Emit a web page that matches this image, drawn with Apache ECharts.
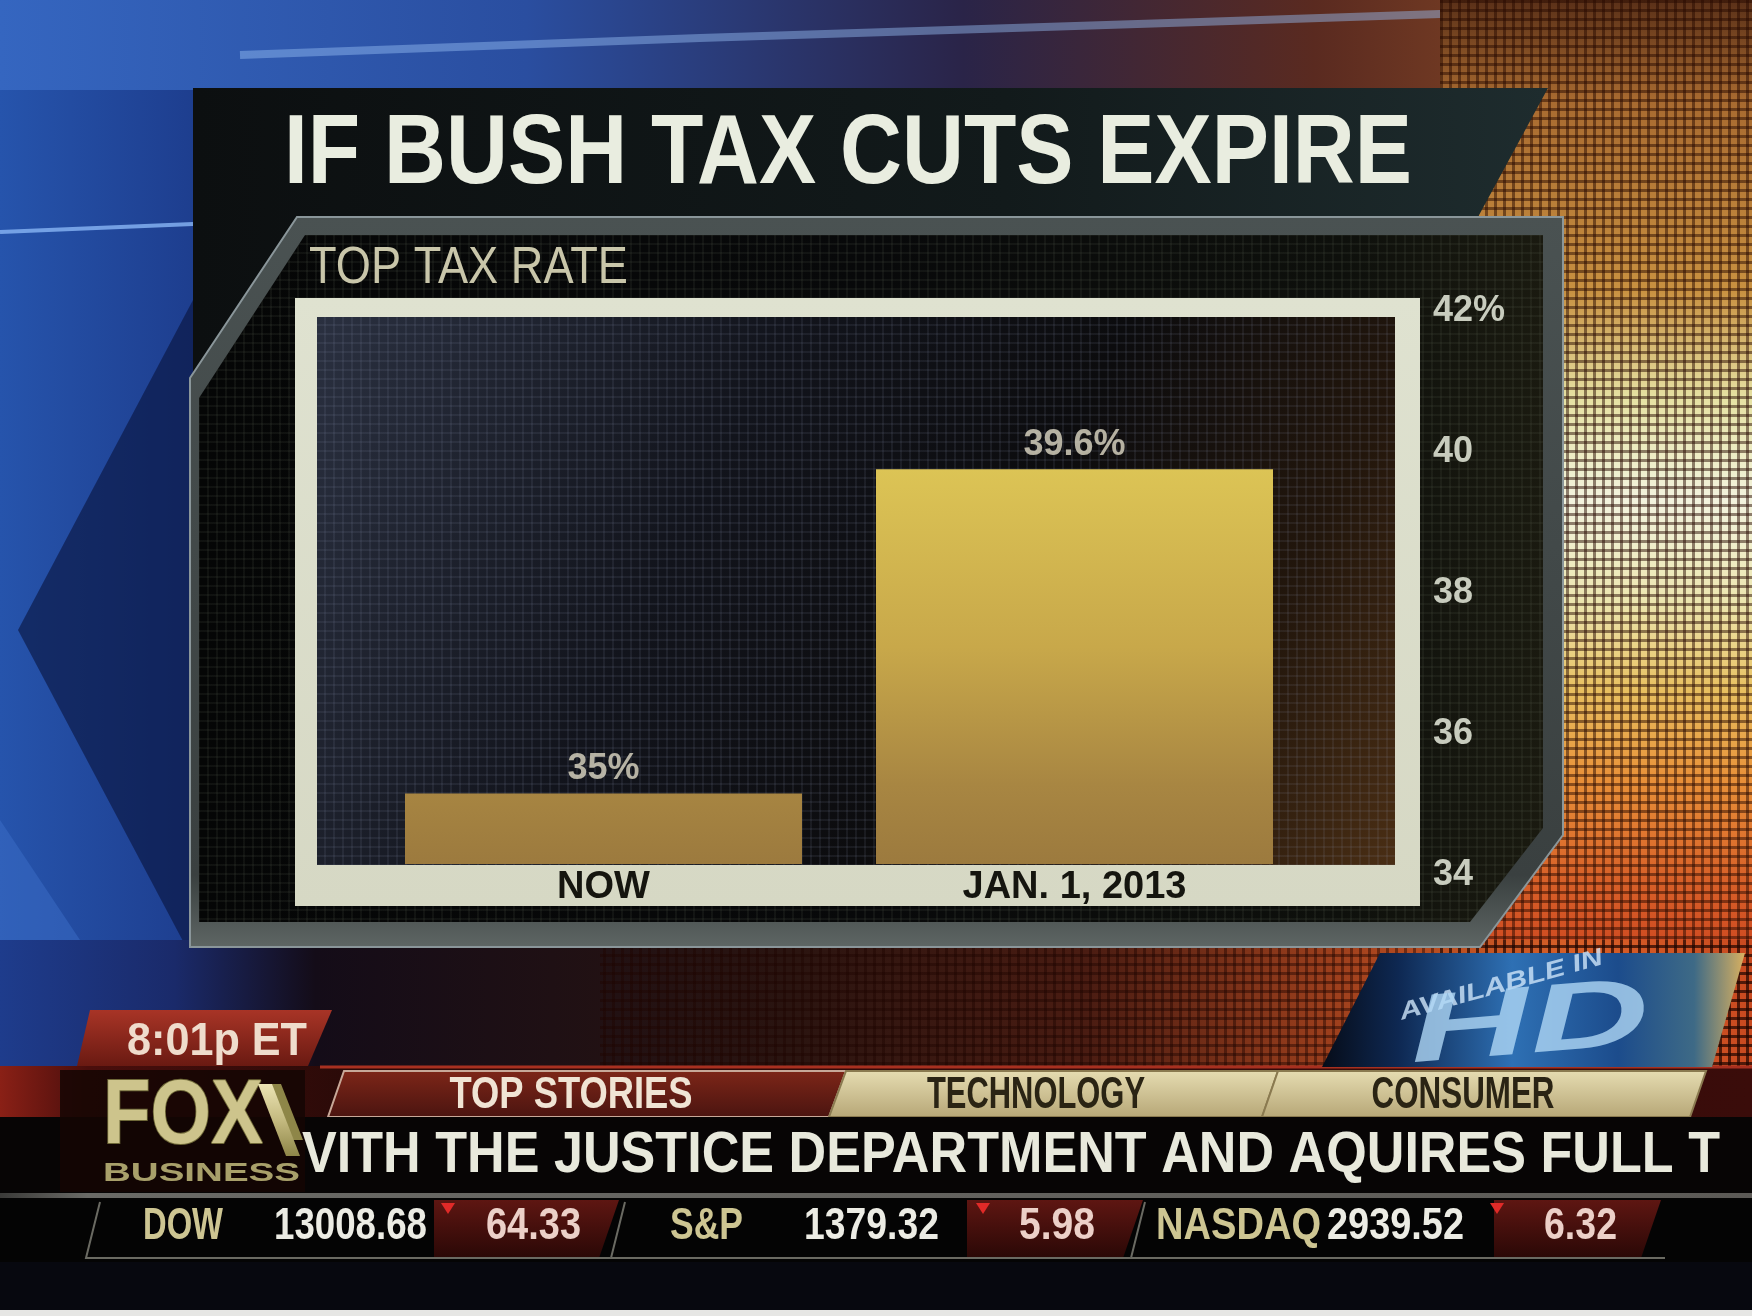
<!DOCTYPE html>
<html>
<head>
<meta charset="utf-8">
<script src="https://cdn.jsdelivr.net/npm/echarts@6/dist/echarts.min.js"></script>
<style>
html,body{margin:0;padding:0;background:#000;}
#c{width:1752px;height:1316px;}
</style>
</head>
<body>
<div id="c"></div>
<script>
// ---- data ----
const categories = ['NOW', 'JAN. 1, 2013'];
const topRates = [35, 39.6];
const yMin = 34, yMax = 42, yStep = 2;
const titleText = 'IF BUSH TAX CUTS EXPIRE';
const subtitleText = 'TOP TAX RATE';
const tabNames = ['TOP STORIES', 'TECHNOLOGY', 'CONSUMER'];
const headline = 'VITH THE JUSTICE DEPARTMENT AND AQUIRES FULL T';
const clockText = '8:01p ET';
const tickerNames = ['DOW', 'S&P', 'NASDAQ'];
const tickerValues = ['13008.68', '1379.32', '2939.52'];
const tickerChanges = ['64.33', '5.98', '6.32'];

const W = 1752, H = 1316;
const FONT = '"Liberation Sans", Arial, sans-serif';
const mctx = document.createElement('canvas').getContext('2d');

function fitText(text, x, y, width, size, color, opt) {
  opt = opt || {};
  const weight = opt.weight || 'normal';
  const style = opt.italic ? 'italic ' : '';
  const font = style + weight + ' ' + size + 'px ' + FONT;
  mctx.font = font;
  const mw = mctx.measureText(text).width || 1;
  return {
    type: 'text', x: x, y: y + size * 0.06, scaleX: width / mw, rotation: opt.rotation || 0,
    silent: true, z: opt.z || 5,
    style: { text: text, font: font, fill: color, align: opt.align || 'left', verticalAlign: 'middle',
             opacity: opt.opacity == null ? 1 : opt.opacity,
             stroke: opt.stroke || null, lineWidth: opt.lineWidth || 0 }
  };
}
function poly(points, fill, extra) {
  return Object.assign({ type: 'polygon', silent: true, shape: { points: points }, style: { fill: fill } }, extra || {});
}
function rect(x, y, w, h, fill, extra) {
  return Object.assign({ type: 'rect', silent: true, shape: { x: x, y: y, width: w, height: h }, style: { fill: fill } }, extra || {});
}
function lin(x2, y2, stops) {
  return { type: 'linear', x: 0, y: 0, x2: x2, y2: y2, colorStops: stops.map(s => ({ offset: s[0], color: s[1] })) };
}
function gridPattern(cell, lw, color) {
  const c = document.createElement('canvas');
  c.width = cell; c.height = cell;
  const g = c.getContext('2d');
  g.fillStyle = color;
  g.fillRect(0, 0, cell, lw);
  g.fillRect(0, 0, lw, cell);
  return { image: c, repeat: 'repeat' };
}

const g = [];
// background
g.push(rect(0, 0, W, H, lin(1, 0, [[0, '#2654ac'], [0.12, '#1d3c8c'], [0.32, '#1a1c44'], [0.55, '#2a1418'], [0.8, '#7a3418'], [1, '#c86a28']])));
g.push(rect(0, 0, W, 90, lin(1, 0, [[0, '#3566c0'], [0.3, '#2a4ea0'], [0.55, '#2a2448'], [0.75, '#5a2a20'], [1, '#a05a28']])));
g.push(poly([[193, 300], [18, 630], [193, 960]], 'rgba(8,18,58,0.6)'));
g.push(poly([[0, 820], [120, 1000], [0, 1060]], 'rgba(60,110,200,0.5)'));
g.push({ type: 'polyline', silent: true, shape: { points: [[0, 232], [193, 224]] }, style: { stroke: 'rgba(130,175,240,0.85)', lineWidth: 4 } });
g.push({ type: 'polyline', silent: true, shape: { points: [[240, 55], [700, 38], [1200, 22], [1500, 12]] }, style: { stroke: 'rgba(150,190,245,0.45)', lineWidth: 8 } });
// right glowing side
const rs = [[0, '#5a3018'], [100, '#a86a30'], [290, '#c89040'], [400, '#e6e2a4'], [500, '#f3f3de'], [600, '#ece6b0'], [690, '#e8c060'], [780, '#e89038'], [880, '#d86028'], [1000, '#c83a1c'], [1070, '#a82c18']];
g.push(rect(1440, 0, 312, 1070, lin(0, 1, rs.map(s => [s[0] / 1070, s[1]]))));
// lower middle band
g.push(rect(0, 940, W, 130, lin(1, 0, [[0, '#1e3c8c'], [0.1, '#1a2a6a'], [0.18, '#140c18'], [0.45, '#2a1410'], [0.62, '#4a1c12'], [0.78, '#a8441e'], [0.9, '#d86028'], [1, '#c84a20']])));
// halftone
g.push(rect(1440, 0, 312, 1070, gridPattern(9, 3, 'rgba(40,10,0,0.5)')));
g.push(rect(600, 940, 1152, 130, gridPattern(9, 3, 'rgba(30,5,0,0.45)')));

// title banner
g.push(poly([[193, 88], [1548, 88], [1478, 217], [297, 217], [195, 378], [193, 378]], lin(1, 0, [[0, '#0c0f10'], [0.6, '#121a1b'], [1, '#1e2c2e']])));
// panel
g.push(poly([[297, 217], [1563, 217], [1563, 835], [1480, 947], [190, 947], [190, 378]], null, { style: { fill: lin(0, 1, [[0, '#4a5252'], [0.9, '#3a4040'], [1, '#5e6664']]), stroke: '#8a969a', lineWidth: 2 } }));
g.push(poly([[305, 235], [1543, 235], [1543, 828], [1470, 922], [199, 922], [199, 398]], lin(1, 0, [[0, '#050606'], [0.5, '#08090a'], [0.85, '#0e100c'], [1, '#1a1a10']])));
g.push(poly([[305, 235], [1543, 235], [1543, 828], [1470, 922], [199, 922], [199, 398]], gridPattern(9, 2, 'rgba(120,130,110,0.10)')));
// white frame
g.push(rect(295, 298, 1125, 608, lin(0, 1, [[0, '#dfe2d0'], [1, '#d6d8c4']])));
g.push(rect(317, 317, 1078, 548, lin(1, 1, [[0, '#2a3040'], [0.35, '#12141c'], [0.6, '#0c0c0e'], [0.82, '#22160c'], [1, '#4a2e14']])));
g.push(rect(317, 317, 1078, 548, gridPattern(9, 2, 'rgba(150,160,185,0.10)')));

// texts
g.push(fitText(titleText, 284, 150, 1128, 98, '#e9ede0', { weight: 'bold' }));
g.push(fitText(subtitleText, 309, 266, 319, 52, '#c9c6aa'));

// bottom: clock
g.push(poly([[90, 1010], [332, 1010], [308, 1066], [77, 1066]], lin(0, 1, [[0, '#a83426'], [1, '#6a1a12']])));
g.push(fitText(clockText, 127, 1040, 180, 46, '#efdccc', { weight: 'bold' }));
// tab row
g.push(rect(0, 1066, W, 52, lin(1, 0, [[0, '#8a2016'], [0.05, '#4a0e0c'], [0.2, '#2a0a08'], [1, '#3a0c0a']])));
g.push({ type: 'polyline', silent: true, shape: { points: [[320, 1067], [W, 1067]] }, style: { stroke: '#a83020', lineWidth: 3 } });
const tabPolys = [
  [[344, 1071], [846, 1071], [829, 1117], [328, 1117]],
  [[846, 1071], [1278, 1071], [1262, 1117], [829, 1117]],
  [[1278, 1071], [1706, 1071], [1690, 1117], [1262, 1117]]
];
const tabCenters = [571, 1036, 1463], tabWidths = [243, 218, 183];
tabPolys.forEach((p, i) => {
  const f = i === 0 ? lin(0, 1, [[0, '#7e2618'], [1, '#4a1410']]) : lin(0, 1, [[0, '#e6ddb2'], [1, '#b6a676']]);
  g.push(poly(p, null, { style: { fill: f, stroke: i === 0 ? '#c8a898' : '#8a7a50', lineWidth: 2 } }));
  g.push(fitText(tabNames[i], tabCenters[i], 1093, tabWidths[i], 44, i === 0 ? '#f0e4d4' : '#2a2414', { weight: 'bold', align: 'center' }));
});
// headline band
g.push(rect(0, 1117, W, 77, '#070505'));
g.push(fitText(headline, 302, 1153, 1418, 57, '#e8e9dc', { weight: 'bold' }));
// logo
g.push(rect(60, 1070, 245, 122, 'rgba(20,6,4,0.85)'));
const gold = lin(0, 1, [[0, '#ece4b4'], [0.5, '#c4ba80'], [1, '#8e8648']]);
g.push(fitText('FOX', 103, 1113, 160, 90, '#cdc48c', { weight: 'bold', z: 7, stroke: '#6e6838', lineWidth: 2 }));
g.push(poly([[258, 1084], [272, 1084], [300, 1156], [286, 1156]], gold, { z: 7 }));
g.push(poly([[270, 1084], [281, 1084], [303, 1140], [292, 1140]], '#8e8648', { z: 6 }));
g.push(fitText('BUSINESS', 103, 1172, 197, 26, '#a8a06a', { weight: 'bold', z: 7 }));
// ticker
g.push(rect(0, 1193, W, 5, lin(1, 0, [[0, '#3a3a38'], [0.05, '#6a6a66'], [1, '#5c5a56']])));
g.push(rect(0, 1198, W, 64, '#040404'));
const redBoxes = [[434, 619], [967, 1143], [1494, 1661]];
redBoxes.forEach(b => {
  g.push(poly([[b[0], 1200], [b[1], 1200], [b[1] - 20, 1258], [b[0], 1258]], lin(0, 1, [[0, '#5e1612'], [1, '#2a0806']])));
});
[[100, 610], [625, 1130], [1145, 1665]].forEach(s => {
  g.push({ type: 'polyline', silent: true, shape: { points: [[s[0], 1202], [s[0] - 14, 1258], [s[1], 1258]] }, style: { stroke: '#6a6a62', lineWidth: 2 } });
});
const nameX = [[143, 80], [670, 73], [1156, 165]];
const valX = [[274, 153], [804, 135], [1327, 137]];
const chgX = [[486, 95], [1019, 76], [1544, 73]];
const triX = [448, 983, 1497];
for (let i = 0; i < 3; i++) {
  g.push(fitText(tickerNames[i], nameX[i][0], 1224, nameX[i][1], 44, '#cdc592', { weight: 'bold' }));
  g.push(fitText(tickerValues[i], valX[i][0], 1224, valX[i][1], 44, '#ececE4', { weight: 'bold' }));
  g.push(fitText(tickerChanges[i], chgX[i][0], 1224, chgX[i][1], 44, '#ecd0c8', { weight: 'bold' }));
  g.push(poly([[triX[i] - 7, 1203], [triX[i] + 7, 1203], [triX[i], 1214]], '#e02a28'));
}
g.push(rect(0, 1262, W, 48, '#07080f'));
g.push(rect(0, 1310, W, 6, '#e6e6e4'));
// HD badge
g.push(poly([[1380, 953], [1745, 953], [1712, 1067], [1322, 1067]], lin(1, 0, [[0, '#060c18'], [0.18, '#0e2852'], [0.45, '#2e70b4'], [0.7, '#1c4c8c'], [0.88, '#3e6a86'], [1, '#d8b060']])));
g.push(fitText('AVAILABLE IN', 1400, 1012, 210, 24, '#d0e6fa', { weight: 'bold', italic: true, rotation: 0.27, opacity: 0.8 }));
g.push(fitText('HD', 1410, 1030, 240, 96, 'rgba(175,215,245,0.8)', { weight: 'bold', italic: true, rotation: 0.08 }));

const chart = echarts.init(document.getElementById('c'), null, { renderer: 'canvas' });
chart.setOption({
  backgroundColor: '#000',
  animation: false,
  graphic: { elements: g },
  grid: { left: 368, right: 442, top: 300, bottom: 452 },
  xAxis: {
    type: 'category', data: categories,
    axisLine: { show: false }, axisTick: { show: false }, splitLine: { show: false },
    axisLabel: { color: '#15150f', fontFamily: FONT, fontWeight: 'bold', fontSize: 38, margin: 24, verticalAlign: 'middle' }
  },
  yAxis: {
    type: 'value', position: 'right', min: yMin, max: yMax, interval: yStep,
    axisLine: { show: false }, axisTick: { show: false }, splitLine: { show: false },
    axisLabel: {
      color: '#c8ccbe', fontFamily: FONT, fontWeight: 'bold', fontSize: 36, margin: 123,
      verticalAlign: 'top', lineHeight: 22,
      formatter: v => (v === yMax ? v + '%' : String(v))
    }
  },
  series: [{
    type: 'bar', data: topRates, barWidth: 397, z: 10,
    itemStyle: {
      color: { type: 'linear', global: true, x: 0, y: 469, x2: 0, y2: 864,
        colorStops: [{ offset: 0, color: '#dcc455' }, { offset: 0.45, color: '#c8a84a' }, { offset: 0.8, color: '#a88642' }, { offset: 1, color: '#9c7a3e' }] }
    },
    label: {
      show: true, position: 'top', distance: 6, color: 'rgba(222,218,198,0.8)',
      fontFamily: FONT, fontWeight: 'bold', fontSize: 36,
      formatter: p => p.value + '%'
    }
  }]
});
</script>
</body>
</html>
